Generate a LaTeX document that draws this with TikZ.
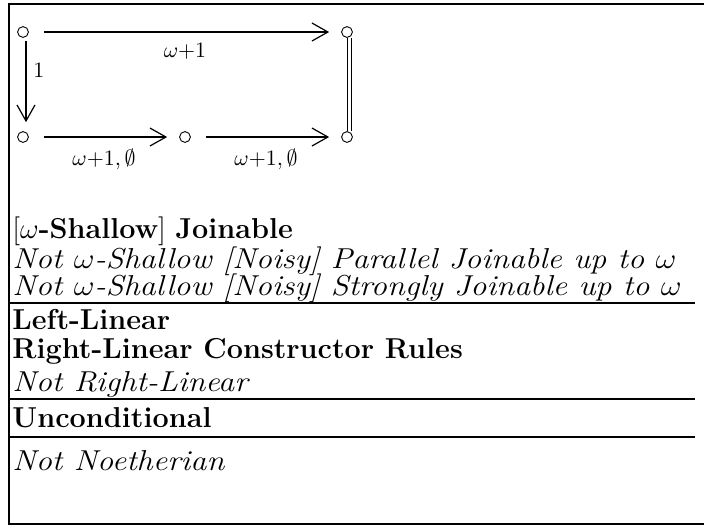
\documentclass[tikz,border=0pt]{standalone}
\usepackage{amssymb}
\usepackage{graphicx}
\usetikzlibrary{arrows.meta}

% wide italic for the negative results
\newcommand{\negres}[1]{\scalebox{1.12}[1]{\itshape #1}}

\begin{document}
\begin{tikzpicture}[x=0.5pt, y=-0.5pt,
    dot/.style={circle, draw, line width=0.45pt, inner sep=0pt, minimum size=5.4pt},
    arr/.style={-{Straight Barb[length=8pt, width=9pt, line width=0.6pt]}, line width=0.6pt},
    thickarr/.style={arr, line width=1.4pt},
    lbl/.style={font=\fontsize{11}{13}\selectfont},
    row/.style={anchor=west, inner sep=0pt, font=\fontsize{14.4}{17}\selectfont},
    rule/.style={line width=1.3pt}]

  \useasboundingbox (0,0) rectangle (704,527);

  % frame
  \draw[rule] (704,4) -- (9,4) -- (9,524) -- (704,524);

  % points
  \node[dot] (tl) at (23,32)  {};
  \node[dot] (tr) at (347,32) {};
  \node[dot] (bl) at (23,137) {};
  \node[dot] (bm) at (185,137) {};
  \node[dot] (br) at (347,137) {};

  % top arrow
  \draw[arr, shorten <=7.5pt, shorten >=6pt]
    (tl) -- (tr) node[midway, below=2pt, lbl] {$\omega{+}1$};

  % down arrow
  \draw[arr, shorten <=1.5pt, shorten >=4.5pt]
    ([xshift=1.5pt]tl.south) -- ([xshift=1.5pt]bl.north)
    node[pos=0.35, right=0pt, lbl] {$1$};

  % bottom arrows
  \draw[thickarr, shorten <=7.5pt, shorten >=6pt]
    (bl) -- (bm) node[midway, below=2pt, lbl] {$\omega{+}1,\emptyset$};
  \draw[thickarr, shorten <=7.5pt, shorten >=6pt]
    (bm) -- (br) node[midway, below=2pt, lbl] {$\omega{+}1,\emptyset$};

  % equality on the right
  \draw[line width=0.5pt] ([xshift=0.2pt]tr.south) -- ([xshift=0.2pt]br.north);
  \draw[line width=0.5pt] ([xshift=2.2pt]tr.south) -- ([xshift=2.2pt]br.north);

  % properties
  \node[row] (join)  at (12,231) {[$\omega$\textbf{-Shallow}] \textbf{Joinable}};
  \node[row] (par)   at (12,261) {\negres{Not $\omega$-Shallow [Noisy] Parallel Joinable up to $\omega$}};
  \node[row] (str)   at (12,288) {\negres{Not $\omega$-Shallow [Noisy] Strongly Joinable up to $\omega$}};
  \draw[rule] (9,303) -- (695,303);

  \node[row] (left)  at (12,319) {\bfseries Left-Linear};
  \node[row] (right) at (12,351) {\bfseries Right-Linear Constructor Rules};
  \node[row] (nright) at (12,384) {\negres{Not Right-Linear}};
  \draw[rule] (9,399) -- (695,399);

  \node[row] (uncond) at (12,418) {\bfseries Unconditional};
  \draw[rule] (9,437) -- (695,437);

  \node[row] (noeth) at (12,461) {\negres{Not Noetherian}};

\end{tikzpicture}
\end{document}
